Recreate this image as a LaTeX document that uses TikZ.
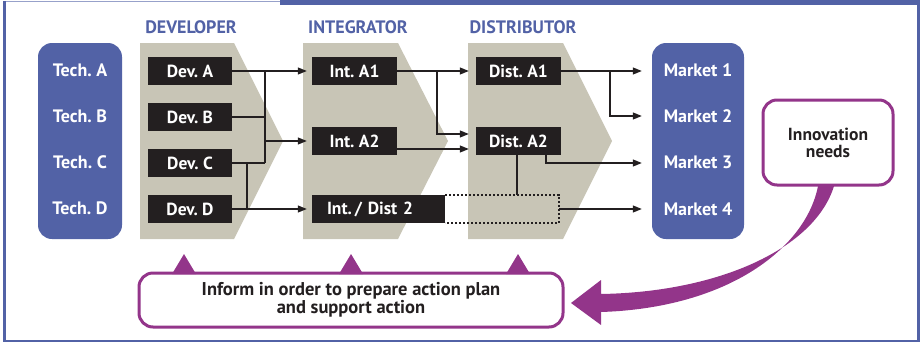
\documentclass[tikz,border=0pt]{standalone}
\usepackage{fontspec}
\setmainfont{PT Sans}
\usetikzlibrary{arrows.meta}
\definecolor{frameblue}{HTML}{5262A6}
\definecolor{innopurple}{HTML}{93358A}
\definecolor{chevgray}{HTML}{C8C5B6}
\definecolor{boxblack}{HTML}{231F20}
\frenchspacing
\begin{document}
\begin{tikzpicture}[x=1pt,y=-1pt,
    box/.style={fill=boxblack,text=white,font=\bfseries\fontsize{17.5}{17.5}\selectfont,
      minimum width=85pt,minimum height=28pt,inner sep=0pt},
    col/.style={fill=frameblue,rounded corners=14pt,inner sep=0pt,minimum height=196pt},
    coltext/.style={text=white,font=\bfseries\fontsize{18}{18}\selectfont},
    head/.style={text=frameblue,font=\bfseries\fontsize{18}{18}\selectfont},
    link/.style={line width=1.2pt,draw=boxblack},
    tip/.style={-{Triangle[length=9pt,width=7pt]}},
    bubble/.style={draw=innopurple,line width=3pt,fill=white,rounded corners=14pt,
      inner sep=0pt,align=center,text=boxblack}]
  \useasboundingbox (0,0) rectangle (920,343);
  % frame
  \draw[frameblue!60,line width=1pt] (4,1.5) -- (280,1.5);
  \fill[frameblue] (280,0) rectangle (920,4.5);
  \draw[frameblue,line width=2.5pt] (4.5,1) -- (4.5,341) -- (918.5,341) -- (918.5,1);
  % chevrons
  \fill[chevgray] (140,43) -- (234,43) -- (283,141) -- (234,239) -- (140,239) -- cycle;
  \fill[chevgray] (303,43) -- (398,43) -- (448,141) -- (398,239) -- (303,239) -- cycle;
  \fill[chevgray] (468,43) -- (563,43) -- (612,141) -- (563,239) -- (468,239) -- cycle;
  \node[head] (devhead) at (191,27) {DEVELOPER};
  \node[head] (inthead) at (358,27) {INTEGRATOR};
  \node[head] (disthead) at (523,27) {DISTRIBUTOR};
  % columns
  \node[col,minimum width=84pt] (tech) at (80,141) {};
  \node[col,minimum width=92pt] (market) at (698,141) {};
  \draw
    (80,70) node[coltext] (t1) {Tech. A}
    (80,116) node[coltext] (t2) {Tech. B}
    (80,162) node[coltext] (t3) {Tech. C}
    (80,208) node[coltext] (t4) {Tech. D}
    (698,70) node[coltext] (m1) {Market 1}
    (698,116) node[coltext] (m2) {Market 2}
    (698,162) node[coltext] (m3) {Market 3}
    (698,209) node[coltext] (m4) {Market 4};
  % boxes
  \draw
    (190,71) node[box,minimum width=84pt] (devA) {Dev. A}
    (190,117) node[box,minimum width=84pt] (devB) {Dev. B}
    (190,163) node[box,minimum width=84pt] (devC) {Dev. C}
    (190,209) node[box,minimum width=84pt] (devD) {Dev. D}
    (354.5,71) node[box] (intA1) {Int. A1}
    (354.5,141) node[box] (intA2) {Int. A2}
    (378.5,209) node[box,text width=103pt,inner xsep=15pt,align=left] (intD) {Int.\,/ Dist 2}
    (518.5,71) node[box] (distA1) {Dist. A1}
    (518.5,141) node[box] (distA2) {Dist. A2};
  \coordinate (dotR) at (559,209);
  \draw[boxblack,line width=2.2pt,dash pattern=on 2pt off 2pt]
    (intD.north east) -- (intD.north east -| dotR) -- (intD.south east -| dotR) -- (intD.south east);
  % developer to integrator
  \coordinate (bus) at (265,141);
  \coordinate (busD) at (247,209);
  \begin{scope}[link]
    \draw[tip,shorten >=5pt] (devA.east) -- (intA1.west);
    \draw (devA.east -| bus) -- (devC.east -| bus);
    \draw (devB.east) -- (devB.east -| bus);
    \draw (devC.east) -- (devC.east -| bus);
    \draw[tip,shorten >=5pt] (bus) -- (intA2.west);
    \draw (devC.east -| busD) -- (busD);
    \draw[tip,shorten >=5pt] (devD.east) -- (intD.west);
  \end{scope}
  % integrator to distributor
  \coordinate (busI) at (437,134);
  \begin{scope}[link]
    \draw[tip,shorten >=7pt] (intA1.east) -- (distA1.west);
    \draw[tip,shorten >=7pt] (intA1.east -| busI) -- (busI) -- (distA2.west |- busI);
    \draw[tip,shorten >=7pt] ([yshift=-8pt]intA2.east) -- ([yshift=-8pt]distA2.west);
  \end{scope}
  % distributor to market
  \coordinate (busM) at (610,116);
  \coordinate (a2out) at (546,163);
  \begin{scope}[link]
    \draw[tip,shorten >=10pt] (distA1.east) -- (distA1.east -| market.west);
    \draw[tip,shorten >=10pt] (distA1.east -| busM) -- (busM) -- (busM -| market.west);
    \draw[tip,shorten >=10pt] (distA2.south -| a2out) -- (a2out) -- (a2out -| market.west);
    \draw ([xshift=-1.5pt]distA2.south) -- ([xshift=-1.5pt]distA2.south |- intD.north);
    \draw[tip,shorten >=10pt] (dotR) -- (dotR -| market.west);
  \end{scope}
  % feedback
  \node[bubble,minimum width=130pt,minimum height=85pt,font=\bfseries\fontsize{17.5}{17}\selectfont]
    (inno) at (828,142.5) {Innovation\\needs};
  \node[bubble,minimum width=424pt,minimum height=54pt,font=\bfseries\fontsize{18.5}{16.5}\selectfont]
    (inform) at (351,300) {Inform in order to prepare action plan\\and support action};
  \fill[innopurple] (172,274) -- (184,254) -- (196,274) -- cycle;
  \fill[innopurple] (339,274) -- (351,254) -- (363,274) -- cycle;
  \fill[innopurple] (506,274) -- (518,254) -- (530,274) -- cycle;
  \fill[innopurple] (834,186) .. controls (815,248) and (720,292) .. (601,294)
    -- (601,280) -- (571,303) -- (601,325) -- (601,312)
    .. controls (728,308) and (806,248) .. (818,186) -- cycle;
\end{tikzpicture}
\end{document}
